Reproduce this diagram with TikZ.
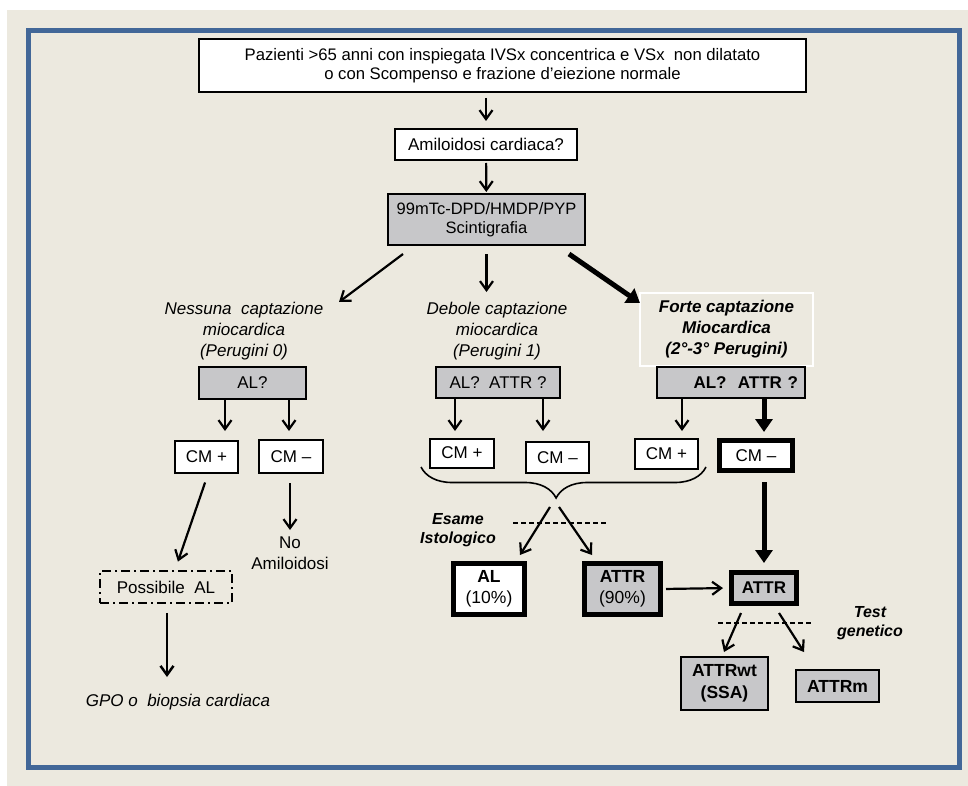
\documentclass[tikz,border=0pt]{standalone}
\usepackage{fontspec}
\setmainfont{Liberation Sans}
\usetikzlibrary{arrows.meta,positioning,decorations.pathreplacing}
\definecolor{sfondo}{RGB}{236,233,223}
\definecolor{cornice}{RGB}{66,103,152}
\definecolor{grigio}{RGB}{199,199,201}
\newcommand{\testoFont}{\fontsize{17}{21}\selectfont}
\newcommand{\corsivoFont}{\fontsize{17}{21}\selectfont\itshape}

\begin{document}
\begin{tikzpicture}[x=1pt, y=-1pt,
		every node/.style={font=\testoFont, inner sep=0pt, align=center},
		box/.style={draw, line width=2pt, fill=white},
		grigiobox/.style={box, fill=grigio},
		spesso/.style={line width=5pt},
		freccia/.style={line width=2.2pt, -{Straight Barb[length=9pt,width=13pt]}},
		frecciona/.style={line width=5pt, -{Triangle[length=13pt,width=17pt]}},
		tratteggio/.style={line width=1.5pt, dash pattern=on 5pt off 3pt}]
		\useasboundingbox (0,0) rectangle (968,786);
		\fill[white] (0,0) rectangle (968,786);
		\fill[sfondo] (7,10) rectangle (968,786);
		\draw[cornice, line width=5pt] (28.5,30.5) rectangle (959.5,767.5);
		% inizio
		\node[box, minimum width=607pt, minimum height=53pt, font=\fontsize{16.7}{19.3}\selectfont] (pazienti) at (502.5,65.5) {Pazienti >65 anni con inspiegata IVSx concentrica e VSx\ \ non dilatato\\o con Scompenso e frazione d’eiezione normale};
		\node[box, minimum width=182pt, minimum height=31pt] (amiloidosi) at (486,144.5) {Amiloidosi cardiaca?};
		\node[grigiobox, minimum width=197pt, minimum height=51pt, font=\fontsize{16.5}{18.5}\selectfont] (scinti) at (486.5,219.5) {99mTc-DPD/HMDP/PYP\\Scintigrafia};
		% captazione
		\node[font=\corsivoFont] (nessuna) at (244,331) {Nessuna\ \ captazione\\miocardica\\(Perugini 0)};
		\node[font=\corsivoFont] (debole) at (497,331) {Debole captazione\\miocardica\\(Perugini 1)};
		\node[draw=white, line width=1.5pt, minimum width=173pt, minimum height=73pt, font=\corsivoFont\bfseries] (forte) at (726.5,329.5) {Forte captazione\\Miocardica\\(2°-3° Perugini)};
		\coordinate (pN) at (339,302);
		\coordinate (pD) at (486.5,292);
		\coordinate (pF) at (640,303);
		% AL? ATTR?
		\node[grigiobox, minimum width=107pt, minimum height=32pt] (alS) at (252.5,383) {AL?};
		\node[grigiobox, minimum width=124pt, minimum height=31pt] (alD) at (498,382.5) {AL?\ \ ATTR ?};
		\node[grigiobox, minimum width=148pt, minimum height=31pt, text width=134pt, align=right, font=\testoFont\bfseries] (alF) at (731,382.5) {AL?\ \ ATTR ?};
		% CM
		\node[box, minimum width=63pt, minimum height=32pt] (cmpS) at (206.5,457) {CM +};
		\node[box, minimum width=64pt, minimum height=33pt] (cmmS) at (291,456.5) {CM –};
		\node[box, minimum width=64pt, minimum height=29pt] (cmpD) at (462,453) {CM +};
		\node[box, minimum width=63pt, minimum height=31pt] (cmmD) at (557.5,457.5) {CM –};
		\node[box, minimum width=63pt, minimum height=30pt] (cmpF) at (666.5,454) {CM +};
		\node[box, spesso, minimum width=73pt, minimum height=30pt] (cmmF) at (756,455.5) {CM –};
		% ramo sinistro
		\node[draw, line width=1.8pt, dash pattern=on 9pt off 4pt on 2pt off 4pt, minimum width=132pt, minimum height=32pt] (possibile) at (166,587) {Possibile\ \ AL};
		\node (noamil) at (290,553.5) {No\\Amiloidosi};
		\node[font=\corsivoFont] (gpo) at (178,702) {GPO o\ \ biopsia cardiaca};
		\coordinate (pNo) at (290,530);
		\coordinate (pGpo) at (167,677);
		% istologia
		\coordinate (graffa) at (556,498);
		\node[font=\fontsize{16}{19}\selectfont\bfseries\itshape] (esame) at (458,530.5) {Esame\\Istologico};
		\node[box, spesso, minimum width=71pt, minimum height=51pt, font=\fontsize{17.5}{21}\selectfont] (al10) at (489,589) {\textbf{AL}\\(10\%)};
		\node[grigiobox, spesso, minimum width=76pt, minimum height=51pt, font=\fontsize{17.5}{21}\selectfont] (attr90) at (622.5,589) {\textbf{ATTR}\\(90\%)};
		\coordinate (pAL) at (520,555);
		\coordinate (pATTR) at (592,555);
		% ATTR
		\node[grigiobox, spesso, minimum width=65pt, minimum height=31pt, font=\testoFont\bfseries] (attr) at (764,588) {ATTR};
		\node[font=\fontsize{16}{19}\selectfont\bfseries\itshape] (test) at (870,623.5) {Test\\genetico};
		\node[grigiobox, minimum width=87pt, minimum height=53pt, font=\fontsize{17.5}{22}\selectfont\bfseries] (attrwt) at (724.5,683.5) {ATTRwt\\(SSA)};
		\node[grigiobox, minimum width=83pt, minimum height=32pt, font=\fontsize{17.5}{21}\selectfont\bfseries] (attrm) at (837.5,686) {ATTRm};
		\coordinate (pWt) at (724,652);
		\coordinate (pM) at (804,652);

		% frecce
		\draw[freccia, shorten <=5pt, shorten >=7pt] (pazienti.south -| amiloidosi.north) -- (amiloidosi.north);
		\draw[freccia, shorten <=2pt, shorten >=1pt] (amiloidosi) -- (scinti);
		\draw[freccia] ([xshift=-83.5pt,yshift=-8pt]scinti.south) -- (pN);
		\draw[freccia, shorten <=8pt] (scinti.south) -- (pD);
		\draw[frecciona] ([xshift=82.5pt,yshift=-8pt]scinti.south) -- (pF);
		\draw[freccia, shorten >=9pt] ([xshift=-27.5pt]alS.south) -- ([xshift=18.5pt]cmpS.north);
		\draw[freccia, shorten >=8pt] ([xshift=36.5pt]alS.south) -- ([xshift=-2pt]cmmS.north);
		\draw[freccia, shorten >=6.5pt] ([xshift=-43pt]alD.south) -- ([xshift=-7pt]cmpD.north);
		\draw[freccia, shorten >=10pt] ([xshift=45pt]alD.south) -- ([xshift=-14.5pt]cmmD.north);
		\draw[freccia, shorten >=7pt] ([xshift=-49pt]alF.south) -- ([xshift=15.5pt]cmpF.north);
		\draw[frecciona, shorten >=6pt] ([xshift=33pt]alF.south) -- ([xshift=8pt]cmmF.north);
		\draw[freccia, shorten <=9pt, shorten >=9pt] ([xshift=1.5pt]cmpS.south) -- ([xshift=9pt]possibile.north);
		\draw[freccia, shorten <=9pt] ([xshift=-1pt]cmmS.south) -- (pNo);
		\draw[freccia, line width=2.5pt, shorten <=9pt] ([xshift=1pt]possibile.south) -- (pGpo);
		\draw[line width=1.6pt, decorate, decoration={brace, amplitude=31pt, aspect=0.526}] (706,467) -- (421,467);
		\draw[freccia] ([xshift=-6pt,yshift=-9pt]graffa) -- (pAL);
		\draw[freccia] ([xshift=3pt,yshift=-9pt]graffa) -- (pATTR);
		\draw[tratteggio] (513,523) -- (608,523);
		\draw[freccia, shorten <=3pt, shorten >=6pt] (attr90.east) -- (attr.west);
		\draw[frecciona, shorten <=9pt, shorten >=7pt] (cmmF.south -| attr.north) -- (attr.north);
		\draw[freccia] ([xshift=-23pt,yshift=-7pt]attr.south) -- (pWt);
		\draw[freccia] ([xshift=15pt,yshift=-7pt]attr.south) -- (pM);
		\draw[tratteggio] (718,623) -- (812,623);
\end{tikzpicture}
\end{document}
